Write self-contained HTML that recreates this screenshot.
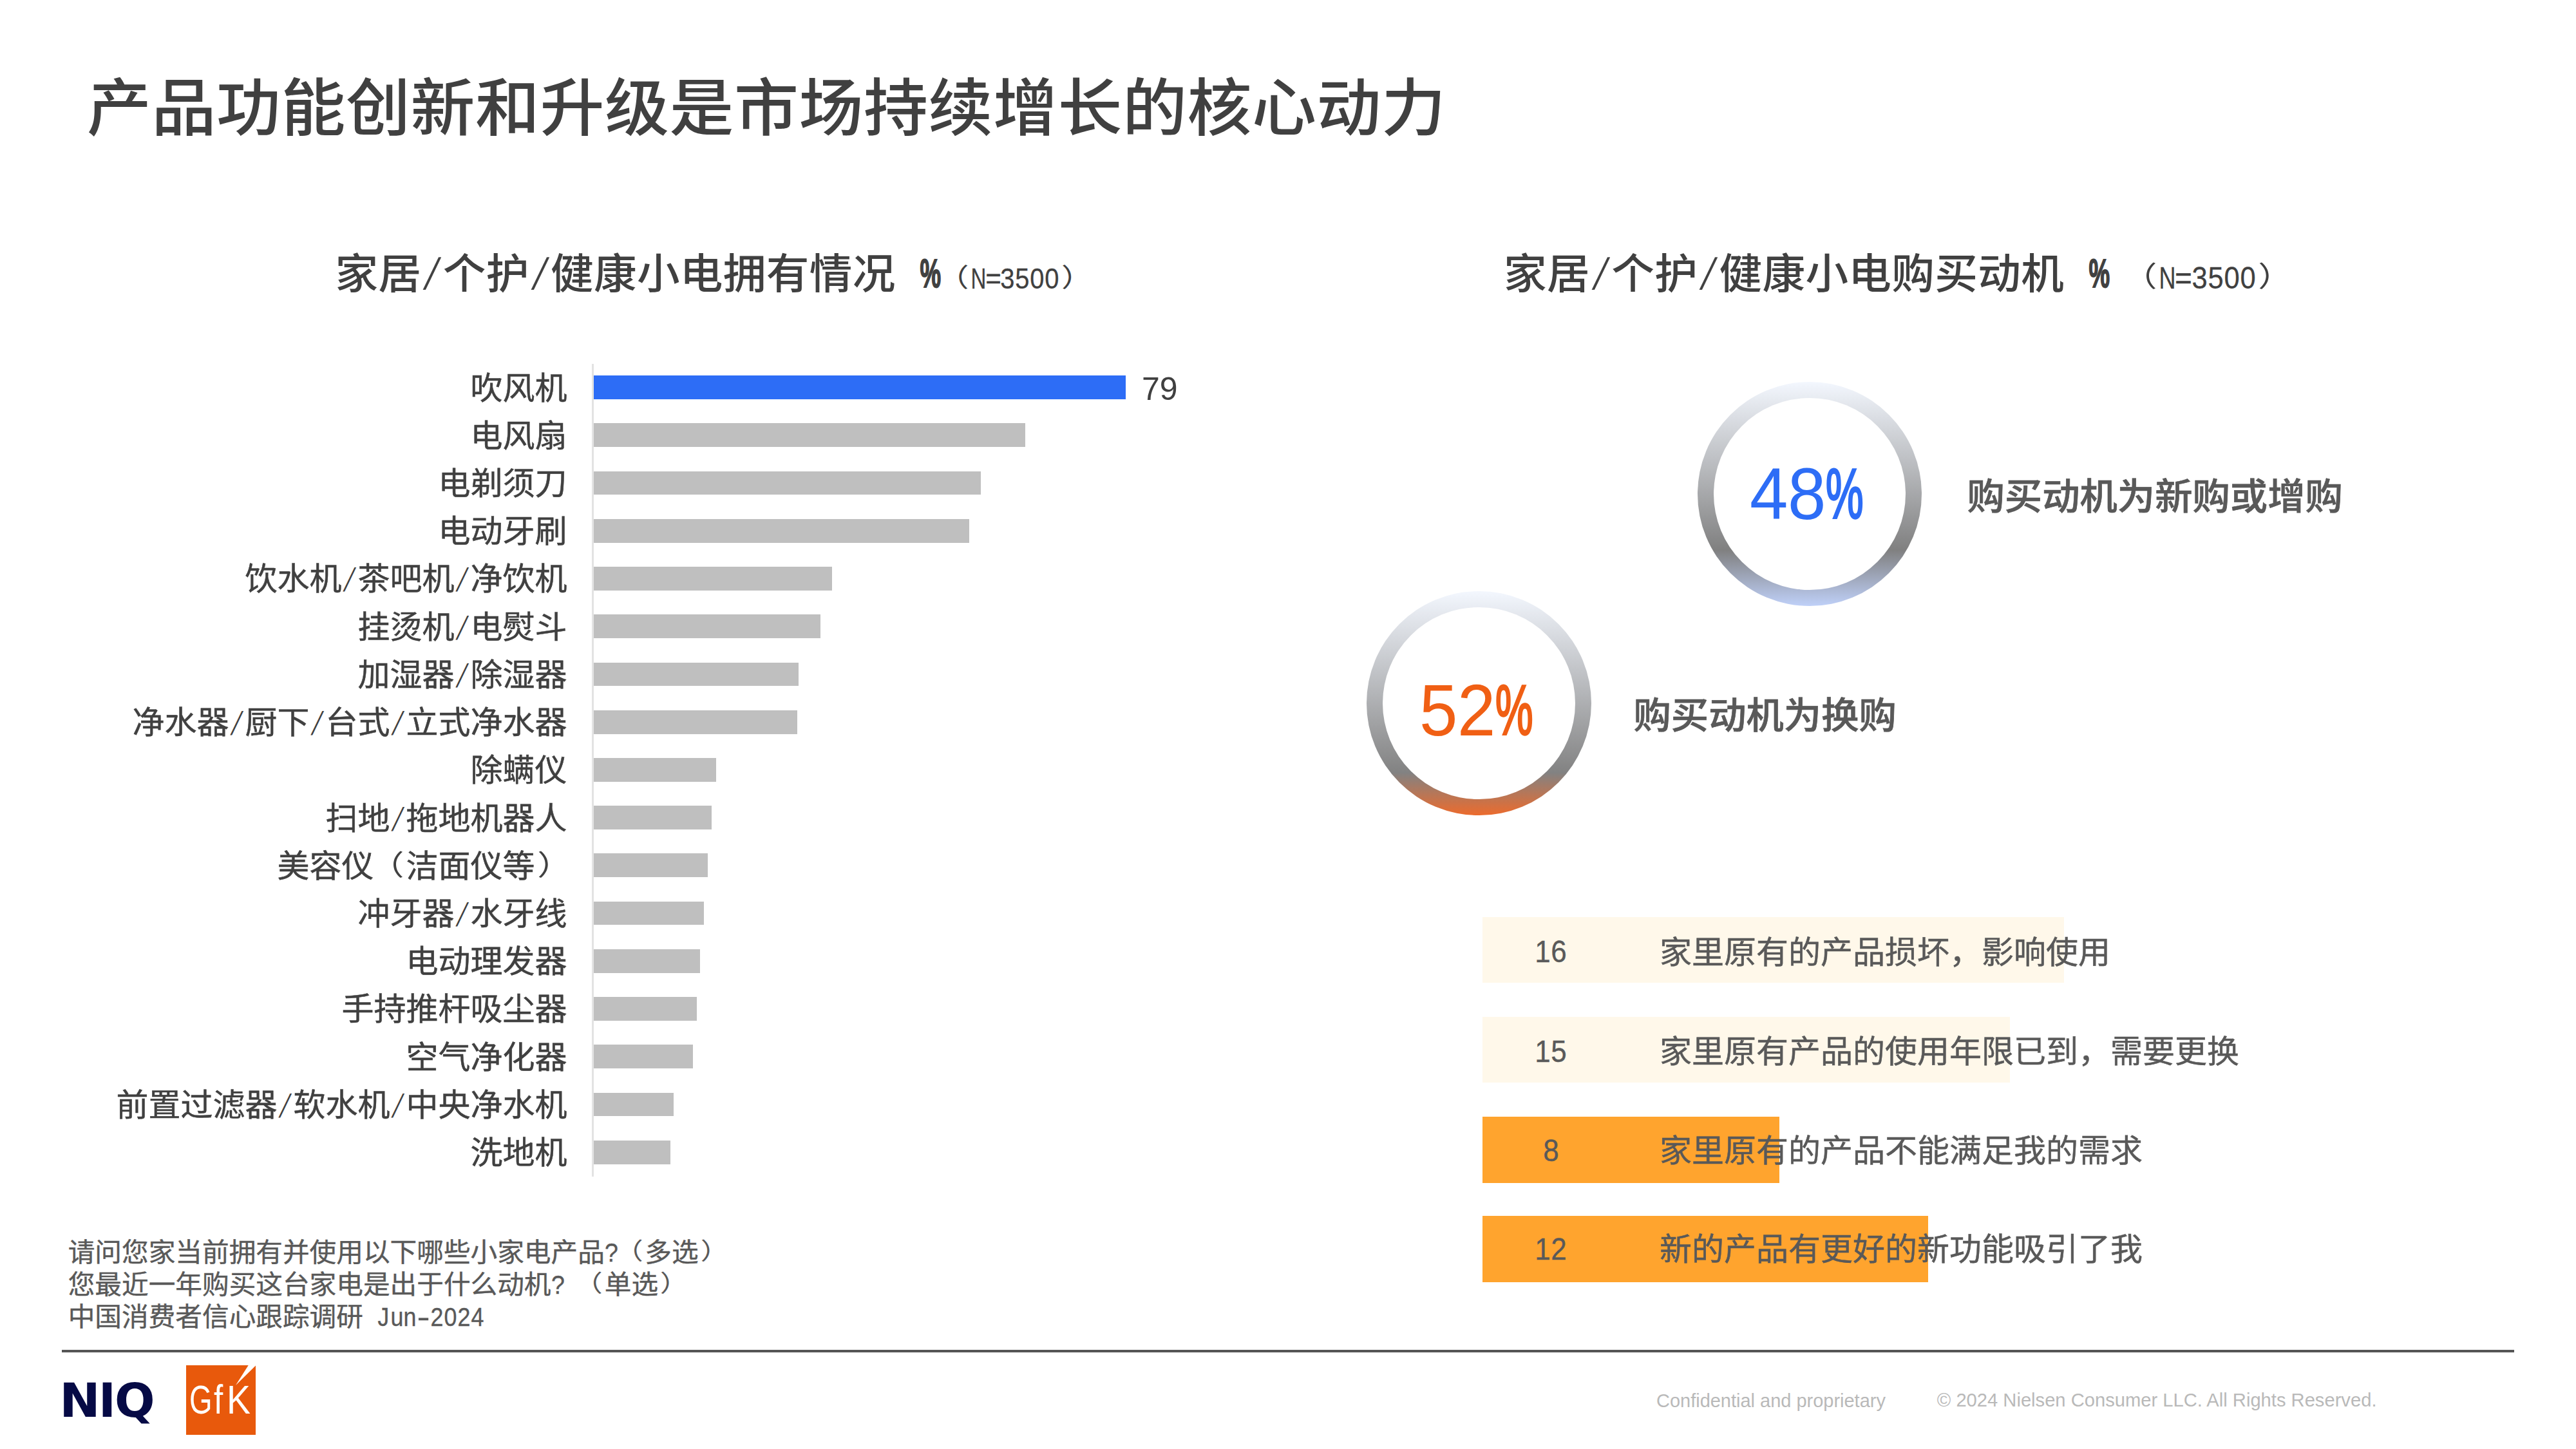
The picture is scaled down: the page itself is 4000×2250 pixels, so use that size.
<!DOCTYPE html>
<html lang="zh-CN">
<head>
<meta charset="utf-8">
<title>产品功能创新和升级是市场持续增长的核心动力</title>
<style>
html,body{margin:0;padding:0;background:#fff;}
body{width:4000px;height:2250px;position:relative;overflow:hidden;font-family:"Liberation Sans","Noto Sans CJK SC",sans-serif;color:#404040;}
.t{position:absolute;white-space:nowrap;line-height:1;margin:0;padding:0;}
.title,.ct,.lab,.cl,.ht,.note{transform:scaleY(.97);transform-origin:0 50%;}
.hw{display:inline-block;width:.5em;text-align:left;}
.hw>span{display:inline-block;transform-origin:0 50%;font-weight:400;}
.sl{text-align:center;}
.sl>span{font-size:.7em;font-weight:400;-webkit-text-stroke:0;transform:translateY(-.143em) skewX(-16deg) scaleY(1.5);transform-origin:50% 50%;}
.pl,.pr{display:inline-block;-webkit-text-stroke:0;font-weight:400;}
.pl{transform:translate(-.075em,-.034em) scale(1.08,.9);transform-origin:95% 50%;}
.pr{transform:translate(.07em,-.034em) scale(1.08,.9);transform-origin:5% 50%;}
.title{left:135px;top:118px;font-size:100px;font-weight:500;letter-spacing:0.5px;}
.ct{font-size:66.67px;font-weight:500;letter-spacing:.3px;}
.ct .sl>span{-webkit-text-stroke:.5px #404040;}
.ct .n{font-weight:400;letter-spacing:0;-webkit-text-stroke:.3px #404040;}
.ct .pc>span{font-weight:700;-webkit-text-stroke:2px #404040;}
.lab{font-size:50px;text-align:right;right:3119.5px;font-weight:400;-webkit-text-stroke:.5px #404040;}
.bar{position:absolute;left:922px;height:36.8px;background:#bfbfbf;}
.bar.hl{background:#2d6df6;}
.axis{position:absolute;left:919px;top:564.5px;width:3px;height:1262px;background:#e3e3e3;}
.val{font-size:50px;font-family:"Liberation Sans",sans-serif;}
.ring{position:absolute;width:348.4px;height:348.4px;border-radius:50%;}
.ring i{position:absolute;left:25px;top:25px;width:298.4px;height:298.4px;border-radius:50%;background:#fff;display:block;}
.pct{font-family:"Liberation Sans",sans-serif;font-size:113.5px;}
.pct .p>span{-webkit-text-stroke:3.4px currentColor;}
.cl{font-size:58.33px;font-weight:500;color:#595959;-webkit-text-stroke:.7px #595959;}
.hb{position:absolute;left:2302px;}
.hv{font-size:50px;color:#595959;font-family:"Liberation Sans",sans-serif;-webkit-text-stroke:.4px #595959;}
.ht{font-size:50px;color:#595959;left:2577px;font-weight:400;-webkit-text-stroke:.5px #595959;}
.note{font-size:41.67px;color:#595959;left:105.7px;font-weight:400;-webkit-text-stroke:.4px #595959;}
.rule{position:absolute;left:96px;top:2096px;width:3808px;height:4px;background:#555;}
.foot{font-family:"Liberation Sans",sans-serif;font-size:29.17px;color:#b9b9b9;}
.niq{font-family:"DejaVu Sans","Liberation Sans",sans-serif;font-weight:700;color:#060a45;font-size:72.2px;left:92.8px;top:2139.2px;}
.niq span{display:inline-block;}
.gfk{position:absolute;left:289px;top:2120px;width:108px;height:108px;background:#e8590c;overflow:hidden;}
.gfk svg{position:absolute;left:0;top:0;}
.gfk div{position:absolute;left:5.4px;top:22.6px;white-space:nowrap;line-height:1;font-family:"Liberation Sans",sans-serif;font-weight:400;font-size:62.3px;color:#fff;}
.gfk span{display:inline-block;transform-origin:0 50%;}
</style>
</head>
<body>
<h1 class="t title">产品功能创新和升级是市场持续增长的核心动力</h1>
<div class="t ct" style="left:520.5px;top:393px;">家居<span class="hw sl"><span>/</span></span>个护<span class="hw sl"><span>/</span></span>健康小电拥有情况<span class="hw"> </span><span class="hw pc" style="margin-left:4.5px;position:relative;top:-1px"><span style="transform:translateX(0.006em) scale(.55,.96)">%</span></span><span class="n" style="font-size:45.83px"><span class="pl">（</span><span class="hw"><span style="transform:translateX(-0.010em) scale(0.72,1)">N</span></span><span class="hw"><span style="transform:translateX(-0.019em) scale(0.92,1)">=</span></span><span class="hw"><span style="transform:translateX(0.008em) scale(0.87,1)">3</span></span><span class="hw"><span style="transform:translateX(0.008em) scale(0.87,1)">5</span></span><span class="hw"><span style="transform:translateX(0.008em) scale(0.87,1)">0</span></span><span class="hw"><span style="transform:translateX(0.008em) scale(0.87,1)">0</span></span><span class="pr">）</span></span></div>
<div class="t ct" style="left:2335px;top:393px;">家居<span class="hw sl"><span>/</span></span>个护<span class="hw sl"><span>/</span></span>健康小电购买动机<span class="hw"> </span><span class="hw pc" style="margin-left:5.0px;position:relative;top:-1px"><span style="transform:translateX(0.006em) scale(.55,.96)">%</span></span><span class="hw" style="width:26.3px"> </span><span class="n" style="font-size:50px"><span class="pl">（</span><span class="hw"><span style="transform:translateX(-0.010em) scale(0.72,1)">N</span></span><span class="hw"><span style="transform:translateX(-0.019em) scale(0.92,1)">=</span></span><span class="hw"><span style="transform:translateX(0.008em) scale(0.87,1)">3</span></span><span class="hw"><span style="transform:translateX(0.008em) scale(0.87,1)">5</span></span><span class="hw"><span style="transform:translateX(0.008em) scale(0.87,1)">0</span></span><span class="hw"><span style="transform:translateX(0.008em) scale(0.87,1)">0</span></span><span class="pr">）</span></span></div>
<div class="axis"></div>
<div class="t lab" style="top:578.61px;">吹风机</div><div class="bar hl" style="top:583.21px;width:826.0px;"></div>
<div class="t lab" style="top:652.83px;">电风扇</div><div class="bar" style="top:657.43px;width:670.0px;"></div>
<div class="t lab" style="top:727.05px;">电剃须刀</div><div class="bar" style="top:731.65px;width:600.8px;"></div>
<div class="t lab" style="top:801.27px;">电动牙刷</div><div class="bar" style="top:805.87px;width:583.0px;"></div>
<div class="t lab" style="top:875.49px;">饮水机<span class="hw sl"><span>/</span></span>茶吧机<span class="hw sl"><span>/</span></span>净饮机</div><div class="bar" style="top:880.09px;width:369.9px;"></div>
<div class="t lab" style="top:949.71px;">挂烫机<span class="hw sl"><span>/</span></span>电熨斗</div><div class="bar" style="top:954.31px;width:351.8px;"></div>
<div class="t lab" style="top:1023.93px;">加湿器<span class="hw sl"><span>/</span></span>除湿器</div><div class="bar" style="top:1028.53px;width:317.8px;"></div>
<div class="t lab" style="top:1098.15px;">净水器<span class="hw sl"><span>/</span></span>厨下<span class="hw sl"><span>/</span></span>台式<span class="hw sl"><span>/</span></span>立式净水器</div><div class="bar" style="top:1102.75px;width:315.9px;"></div>
<div class="t lab" style="top:1172.37px;">除螨仪</div><div class="bar" style="top:1176.97px;width:189.9px;"></div>
<div class="t lab" style="top:1246.59px;">扫地<span class="hw sl"><span>/</span></span>拖地机器人</div><div class="bar" style="top:1251.19px;width:182.9px;"></div>
<div class="t lab" style="top:1320.81px;">美容仪<span class="pl">（</span>洁面仪等<span class="pr">）</span></div><div class="bar" style="top:1325.41px;width:177.0px;"></div>
<div class="t lab" style="top:1395.03px;">冲牙器<span class="hw sl"><span>/</span></span>水牙线</div><div class="bar" style="top:1399.63px;width:170.9px;"></div>
<div class="t lab" style="top:1469.25px;">电动理发器</div><div class="bar" style="top:1473.85px;width:165.0px;"></div>
<div class="t lab" style="top:1543.47px;">手持推杆吸尘器</div><div class="bar" style="top:1548.07px;width:159.9px;"></div>
<div class="t lab" style="top:1617.69px;">空气净化器</div><div class="bar" style="top:1622.29px;width:153.8px;"></div>
<div class="t lab" style="top:1691.91px;">前置过滤器<span class="hw sl"><span>/</span></span>软水机<span class="hw sl"><span>/</span></span>中央净水机</div><div class="bar" style="top:1696.51px;width:123.7px;"></div>
<div class="t lab" style="top:1766.13px;">洗地机</div><div class="bar" style="top:1770.73px;width:118.8px;"></div>
<div class="t val" style="left:1773px;top:578.5px;">79</div>
<div class="ring" style="left:2636px;top:592.7px;background:linear-gradient(to bottom,#f3f7fe 0%,#808080 75%,#bfd0f8 100%);"><i></i></div>
<div class="ring" style="left:2122.3px;top:918px;background:linear-gradient(to bottom,#f3f7fe 0%,#828282 81%,#ec6b2d 100%);"><i></i></div>
<div class="t pct" style="left:2716.5px;top:709.5px;color:#2d6df6;"><span class="hw" style="width:59px"><span style="transform:scaleX(.94)">4</span></span><span class="hw" style="width:59px"><span style="transform:scaleX(.94)">8</span></span><span class="hw p"><span style="transform:scale(.58,.96)">%</span></span></div>
<div class="t pct" style="left:2203.5px;top:1046px;color:#f05f14;"><span class="hw" style="width:59px"><span style="transform:scaleX(.94)">5</span></span><span class="hw" style="width:59px"><span style="transform:scaleX(.94)">2</span></span><span class="hw p"><span style="transform:scale(.58,.96)">%</span></span></div>
<div class="t cl" style="left:3054.5px;top:742.5px;">购买动机为新购或增购</div>
<div class="t cl" style="left:2536.5px;top:1082.5px;">购买动机为换购</div>
<div class="hb" style="top:1424.1px;height:102.4px;width:903.0px;background:#fff8ea;"></div><div class="t hv" style="left:2383.0px;top:1453.0px;"><span class="hw"><span style="transform:translateX(0.005em) scale(0.88,0.95)">1</span></span><span class="hw"><span style="transform:translateX(0.005em) scale(0.88,0.95)">6</span></span></div><div class="t ht" style="top:1455.3px;">家里原有的产品损坏，影响使用</div>
<div class="hb" style="top:1578.9px;height:102.4px;width:819.0px;background:#fff8ea;"></div><div class="t hv" style="left:2383.0px;top:1607.5px;"><span class="hw"><span style="transform:translateX(0.005em) scale(0.88,0.95)">1</span></span><span class="hw"><span style="transform:translateX(0.005em) scale(0.88,0.95)">5</span></span></div><div class="t ht" style="top:1609.3px;">家里原有产品的使用年限已到，需要更换</div>
<div class="hb" style="top:1733.9px;height:102.8px;width:460.9px;background:#ffa42e;"></div><div class="t hv" style="left:2395.5px;top:1761.8px;"><span class="hw"><span style="transform:translateX(0.005em) scale(0.88,0.95)">8</span></span></div><div class="t ht" style="top:1763.1px;">家里原有的产品不能满足我的需求</div>
<div class="hb" style="top:1888.3px;height:103.2px;width:692.0px;background:#ffa42e;"></div><div class="t hv" style="left:2383.0px;top:1914.6px;"><span class="hw"><span style="transform:translateX(0.005em) scale(0.88,0.95)">1</span></span><span class="hw"><span style="transform:translateX(0.005em) scale(0.88,0.95)">2</span></span></div><div class="t ht" style="top:1916.3px;">新的产品有更好的新功能吸引了我</div>
<div class="t note" style="top:1923.5px;">请问您家当前拥有并使用以下哪些小家电产品<span class="hw"><span style="transform:translateX(-0.000em) scale(0.9,1)">?</span></span><span class="pl">（</span>多选<span class="pr">）</span></div>
<div class="t note" style="top:1973.5px;">您最近一年购买这台家电是出于什么动机<span class="hw"><span style="transform:translateX(-0.000em) scale(0.9,1)">?</span></span><span class="hw"> </span><span class="pl">（</span>单选<span class="pr">）</span></div>
<div class="t note" style="top:2023.5px;">中国消费者信心跟踪调研<span class="hw"> </span><span class="hw"><span style="transform:translateX(0.038em) scale(0.85,1)">J</span></span><span class="hw"><span style="transform:translateX(0.011em) scale(0.86,1)">u</span></span><span class="hw"><span style="transform:translateX(0.011em) scale(0.86,1)">n</span></span><span class="hw"><span style="transform:translateX(0.009em) scale(1.45,1)">-</span></span><span class="hw"><span style="transform:translateX(0.011em) scale(0.86,1)">2</span></span><span class="hw"><span style="transform:translateX(0.011em) scale(0.86,1)">0</span></span><span class="hw"><span style="transform:translateX(0.011em) scale(0.86,1)">2</span></span><span class="hw"><span style="transform:translateX(0.011em) scale(0.86,1)">4</span></span></div>
<div class="rule"></div>
<div class="t niq"><span style="width:60.9px;transform:translateX(-.7px) scaleX(1.05);transform-origin:0 50%">N</span><span style="width:24.3px;transform:translateX(-.8px)">I</span><span style="transform:scaleX(1.02);transform-origin:0 50%">Q</span></div>
<div class="gfk"><svg width="108" height="108" viewBox="0 0 108 108"><polygon points="96.7,0 108,0 108,.4 77,31" fill="#fff"/></svg><div><span style="width:37.5px;transform:scaleX(.733)">G</span><span style="width:20.2px;transform:scaleX(.82)">f</span><span style="transform:scaleX(.89)">K</span></div></div>
<div class="t foot" style="left:2572px;top:2160.5px;font-size:28.97px;">Confidential and proprietary</div>
<div class="t foot" style="left:3007.8px;top:2159.5px;">© 2024 Nielsen Consumer LLC. All Rights Reserved.</div>
</body>
</html>
